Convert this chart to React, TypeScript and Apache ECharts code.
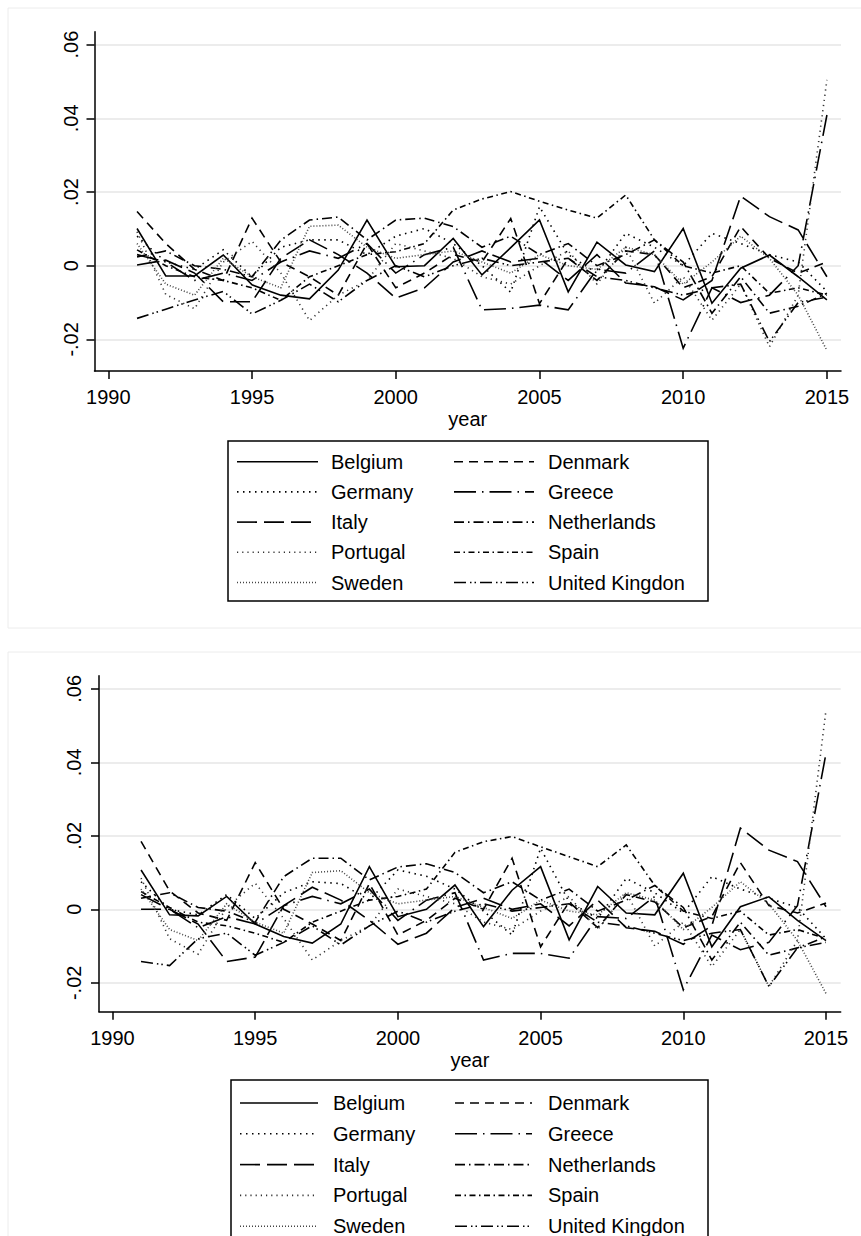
import React, { useEffect, useRef } from "react";
import * as echarts from "echarts";

// ---------- data ----------
const years = [1991, 1992, 1993, 1994, 1995, 1996, 1997, 1998, 1999, 2000, 2001, 2002, 2003, 2004, 2005, 2006, 2007, 2008, 2009, 2010, 2011, 2012, 2013, 2014, 2015];
const countries = ["Belgium", "Denmark", "Germany", "Greece", "Italy", "Netherlands", "Portugal", "Spain", "Sweden", "United Kingdon"];
const xTicks = [1990, 1995, 2000, 2005, 2010, 2015];
const yTicks = [-0.02, 0, 0.02, 0.04, 0.06];
const yTickLabels = ["-.02", "0", ".02", ".04", ".06"];
const xTitle = "year";

// top panel
const belgiumTop = [0.0101, -0.0028, -0.0028, 0.0029, -0.0052, -0.0080, -0.0090, -0.0012, 0.0124, -0.0003, 0.0000, 0.0074, -0.0025, 0.0049, 0.0124, -0.0071, 0.0064, 0.0002, -0.0016, 0.0101, -0.0102, -0.0007, 0.0029, -0.0030, -0.0093];
const denmarkTop = [0.0147, 0.0060, -0.0010, -0.0040, 0.0129, 0.0010, -0.0030, -0.0080, 0.0060, -0.0060, -0.0020, 0.0030, 0.0010, 0.0128, -0.0103, 0.0020, -0.0040, 0.0040, 0.0030, -0.0060, -0.0030, 0.0106, 0.0020, -0.0020, 0.0010];
const germanyTop = [0.0080, 0.0010, -0.0010, 0.0043, -0.0030, 0.0050, 0.0070, 0.0070, 0.0030, 0.0080, 0.0101, 0.0060, 0.0000, -0.0072, 0.0160, 0.0030, -0.0020, 0.0088, 0.0050, 0.0000, 0.0088, 0.0060, 0.0030, 0.0010, -0.0070];
const greeceTop = [0.0030, 0.0010, -0.0040, -0.0020, -0.0040, 0.0010, 0.0040, 0.0020, 0.0060, -0.0020, 0.0030, 0.0050, -0.0120, -0.0116, -0.0107, -0.0120, -0.0010, -0.0020, 0.0040, -0.0224, -0.0060, -0.0100, -0.0080, 0.0000, 0.0409];
const italyTop = [0.0002, 0.0015, -0.0020, -0.0098, -0.0098, 0.0020, 0.0070, 0.0030, -0.0020, -0.0088, -0.0060, 0.0010, 0.0040, 0.0010, 0.0020, -0.0040, 0.0030, -0.0047, -0.0057, -0.0093, -0.0040, 0.0189, 0.0133, 0.0097, -0.0030];
const netherlandsTop = [0.0024, 0.0040, 0.0000, -0.0010, -0.0030, 0.0069, 0.0124, 0.0132, 0.0070, 0.0124, 0.0129, 0.0106, 0.0050, 0.0080, 0.0030, 0.0060, 0.0000, 0.0030, 0.0070, 0.0010, -0.0129, -0.0030, -0.0129, -0.0110, -0.0075];
const portugalTop = [0.0092, -0.0078, -0.0117, 0.0010, 0.0066, -0.0020, -0.0149, -0.0080, -0.0040, 0.0060, 0.0040, 0.0020, -0.0030, -0.0050, 0.0000, 0.0040, -0.0050, 0.0050, -0.0102, -0.0030, -0.0148, -0.0050, -0.0220, -0.0080, 0.0504];
const spainTop = [0.0043, 0.0000, -0.0030, -0.0040, -0.0060, -0.0094, -0.0030, 0.0000, 0.0030, 0.0038, 0.0060, 0.0151, 0.0181, 0.0201, 0.0175, 0.0151, 0.0129, 0.0192, 0.0070, 0.0000, -0.0020, 0.0000, -0.0075, -0.0060, -0.0080];
const swedenTop = [0.0060, -0.0050, -0.0080, 0.0020, -0.0030, -0.0060, 0.0107, 0.0110, 0.0050, 0.0020, 0.0030, 0.0040, 0.0010, -0.0020, 0.0030, 0.0000, -0.0010, 0.0050, 0.0030, -0.0050, 0.0010, 0.0080, 0.0020, -0.0080, -0.0230];
const ukTop = [-0.0143, -0.0118, -0.0093, -0.0070, -0.0131, -0.0094, -0.0050, -0.0098, -0.0040, 0.0000, -0.0030, 0.0000, 0.0020, 0.0000, 0.0010, 0.0020, -0.0030, -0.0040, -0.0060, -0.0080, -0.0060, -0.0050, -0.0206, -0.0100, -0.0085];

// bottom panel
const belgiumBottom = [0.0107, -0.0015, -0.0018, 0.0035, -0.0040, -0.0074, -0.0092, -0.0040, 0.0116, -0.0020, 0.0000, 0.0066, -0.0047, 0.0052, 0.0116, -0.0083, 0.0062, -0.0010, -0.0015, 0.0098, -0.0102, 0.0007, 0.0034, -0.0030, -0.0085];
const denmarkBottom = [0.0185, 0.0050, -0.0010, -0.0030, 0.0127, 0.0000, -0.0040, -0.0085, 0.0070, -0.0070, -0.0030, 0.0030, 0.0000, 0.0139, -0.0102, 0.0020, -0.0050, 0.0040, 0.0020, -0.0050, -0.0020, 0.0127, 0.0010, -0.0010, 0.0017];
const germanyBottom = [0.0075, 0.0000, -0.0015, 0.0040, -0.0025, 0.0045, 0.0075, 0.0070, 0.0025, 0.0107, 0.0090, 0.0055, -0.0005, -0.0070, 0.0166, 0.0020, -0.0025, 0.0084, 0.0045, -0.0010, 0.0089, 0.0055, 0.0030, 0.0005, -0.0080];
const greeceBottom = [0.0040, 0.0000, -0.0050, -0.0020, -0.0040, 0.0010, 0.0035, 0.0015, 0.0055, -0.0030, 0.0025, 0.0045, -0.0138, -0.0120, -0.0120, -0.0133, -0.0020, -0.0025, 0.0035, -0.0219, -0.0070, -0.0110, -0.0090, 0.0010, 0.0424];
const italyBottom = [0.0000, 0.0000, -0.0040, -0.0142, -0.0130, 0.0010, 0.0060, 0.0025, -0.0030, -0.0095, -0.0065, 0.0005, 0.0030, 0.0000, 0.0015, -0.0045, 0.0025, -0.0050, -0.0060, -0.0095, -0.0045, 0.0221, 0.0161, 0.0130, 0.0007];
const netherlandsBottom = [0.0030, 0.0045, 0.0005, -0.0005, -0.0035, 0.0089, 0.0139, 0.0139, 0.0080, 0.0115, 0.0124, 0.0100, 0.0045, 0.0075, 0.0025, 0.0055, -0.0005, 0.0025, 0.0065, 0.0005, -0.0138, -0.0035, -0.0125, -0.0105, -0.0075];
const portugalBottom = [0.0085, -0.0080, -0.0122, 0.0005, 0.0071, -0.0025, -0.0138, -0.0085, -0.0045, 0.0055, 0.0035, 0.0015, -0.0035, -0.0055, -0.0005, 0.0035, -0.0055, 0.0045, -0.0100, -0.0035, -0.0156, -0.0055, -0.0210, -0.0085, 0.0542];
const spainBottom = [0.0048, 0.0005, -0.0035, -0.0045, -0.0065, -0.0090, -0.0035, -0.0005, 0.0025, 0.0035, 0.0055, 0.0155, 0.0184, 0.0198, 0.0170, 0.0143, 0.0116, 0.0175, 0.0065, -0.0005, -0.0025, -0.0005, -0.0070, -0.0055, -0.0080];
const swedenBottom = [0.0055, -0.0055, -0.0085, 0.0015, -0.0035, -0.0065, 0.0100, 0.0105, 0.0045, 0.0015, 0.0025, 0.0035, 0.0005, -0.0025, 0.0025, -0.0005, -0.0015, 0.0045, 0.0025, -0.0055, 0.0005, 0.0075, 0.0015, -0.0085, -0.0229];
const ukBottom = [-0.0142, -0.0153, -0.0080, -0.0065, -0.0125, -0.0090, -0.0045, -0.0097, -0.0045, -0.0005, -0.0035, -0.0005, 0.0015, -0.0005, 0.0005, 0.0015, -0.0035, -0.0045, -0.0065, -0.0085, -0.0065, -0.0055, -0.0210, -0.0105, -0.0090];

const topValues = [belgiumTop, denmarkTop, germanyTop, greeceTop, italyTop, netherlandsTop, portugalTop, spainTop, swedenTop, ukTop];
const bottomValues = [belgiumBottom, denmarkBottom, germanyBottom, greeceBottom, italyBottom, netherlandsBottom, portugalBottom, spainBottom, swedenBottom, ukBottom];

// ---------- styles ----------
const FONT = "'Liberation Sans', Arial, Helvetica, sans-serif";
const dashes: (string | number[])[] = [
  "solid",                 // Belgium
  [9, 6],                  // Denmark
  [1.5, 4.5],              // Germany
  [22, 6, 1.5, 6],         // Greece
  [20, 7],                 // Italy
  [10, 4, 1.5, 4],         // Netherlands
  [1.2, 4],                // Portugal
  [6, 3.5, 1.5, 3.5],      // Spain
  [1, 2],                  // Sweden
  [12, 4, 1.5, 3, 1.5, 4], // United Kingdon
];
const lineColors = ["#000", "#000", "#000", "#000", "#000", "#000", "#333", "#000", "#444", "#000"];

type Panel = {
  left: number; top: number; right: number; bottom: number;
  xMin: number; xMax: number; yMin: number; yMax: number;
  labelMargin: number;
  legend: { x: number; y: number; w: number; h: number; row0: number; rowGap: number; c1: [number, number, number]; c2: [number, number, number] };
  frame: { x: number; y: number; w: number; h: number };
};

const panels: Panel[] = [
  {
    left: 94.5, top: 31.7, right: 841, bottom: 371,
    xMin: 1989.52, xMax: 2015.49, yMin: -0.02858, yMax: 0.0635,
    labelMargin: 14,
    legend: { x: 228, y: 441, w: 480, h: 160, row0: 461.7, rowGap: 30.2, c1: [237, 318, 331], c2: [454, 534, 548] },
    frame: { x: 8, y: 8, w: 900, h: 620 },
  },
  {
    left: 99, top: 675.7, right: 840.7, bottom: 1011.7,
    xMin: 1989.527, xMax: 2015.515, yMin: -0.02786, yMax: 0.06356,
    labelMargin: 15,
    legend: { x: 231, y: 1080, w: 477, h: 200, row0: 1103, rowGap: 30.8, c1: [240, 318, 333], c2: [455, 532, 548] },
    frame: { x: 8, y: 652, w: 900, h: 700 },
  },
];

function yLabel(v: number): string {
  for (let j = 0; j < yTicks.length; j++) if (Math.abs(yTicks[j] - v) < 1e-9) return yTickLabels[j];
  return "";
}

function buildOption() {
  const grid: any[] = [];
  const xAxis: any[] = [];
  const yAxis: any[] = [];
  const series: any[] = [];
  const graphic: any[] = [];
  const axisLineStyle = { color: "#000", width: 1.5 };

  panels.forEach((p, pi) => {
    graphic.push({
      type: "rect", z: -10, silent: true,
      shape: { x: p.frame.x, y: p.frame.y, width: p.frame.w, height: p.frame.h },
      style: { fill: "#fff", stroke: "#ececec", lineWidth: 1 },
    });
    grid.push({ left: p.left, top: p.top, width: p.right - p.left, height: p.bottom - p.top, containLabel: false });
    xAxis.push({
      type: "value", gridIndex: pi, min: p.xMin, max: p.xMax,
      axisLine: { show: true, onZero: false, lineStyle: axisLineStyle },
      axisTick: { show: true, length: 8, customValues: xTicks, lineStyle: axisLineStyle },
      axisLabel: { show: true, customValues: xTicks, margin: 16, color: "#000", fontSize: 20, fontFamily: FONT, formatter: (v: number) => String(Math.round(v)) },
      splitLine: { show: false },
      name: xTitle, nameLocation: "middle", nameGap: 38,
      nameTextStyle: { color: "#000", fontSize: 20, fontFamily: FONT },
    });
    yAxis.push({
      type: "value", gridIndex: pi, min: p.yMin, max: p.yMax,
      axisLine: { show: true, onZero: false, lineStyle: axisLineStyle },
      axisTick: { show: true, length: 8, customValues: yTicks, lineStyle: axisLineStyle },
      axisLabel: { show: true, customValues: yTicks, rotate: 90, margin: p.labelMargin, color: "#000", fontSize: 20, fontFamily: FONT, formatter: (v: number) => yLabel(v) },
      splitLine: { show: true, lineStyle: { color: "#e6e6e6", width: 1.5 } },
    });
    const vals = pi === 0 ? topValues : bottomValues;
    countries.forEach((name, ci) => {
      series.push({
        type: "line", name: name + (pi === 0 ? " " : "  "), xAxisIndex: pi, yAxisIndex: pi,
        data: years.map((yr, k) => [yr, vals[ci][k]]),
        symbol: "none", showSymbol: false, silent: true, clip: true,
        lineStyle: { color: lineColors[ci], width: 1.6, type: dashes[ci], cap: "butt", join: "miter" },
        emphasis: { disabled: true },
      });
    });

    // legend box
    const L = p.legend;
    graphic.push({
      type: "rect", silent: true, z: 10,
      shape: { x: L.x, y: L.y, width: L.w, height: L.h },
      style: { fill: "#fff", stroke: "#000", lineWidth: 1.5 },
    });
    countries.forEach((name, ci) => {
      const row = Math.floor(ci / 2);
      const col = ci % 2 === 0 ? L.c1 : L.c2;
      const cy = L.row0 + row * L.rowGap;
      const dash = dashes[ci];
      graphic.push({
        type: "line", silent: true, z: 11,
        shape: { x1: col[0], y1: cy, x2: col[1], y2: cy },
        style: { stroke: lineColors[ci], lineWidth: 1.6, lineDash: dash === "solid" ? null : dash, lineCap: "butt" },
      });
      graphic.push({
        type: "text", silent: true, z: 11,
        x: col[2], y: cy,
        style: { text: name, fill: "#000", font: `20px ${FONT}`, textAlign: "left", textVerticalAlign: "middle", verticalAlign: "middle" },
      });
    });
  });

  return {
    animation: false,
    backgroundColor: "#fff",
    textStyle: { fontFamily: FONT },
    grid, xAxis, yAxis, series, graphic,
  };
}

export default function App() {
  const ref = useRef<HTMLDivElement>(null);
  useEffect(() => {
    if (!ref.current) return;
    const chart = echarts.init(ref.current, null, { renderer: "svg" });
    chart.setOption(buildOption() as any);
    return () => chart.dispose();
  }, []);
  return <div ref={ref} style={{ position: "absolute", left: 0, top: 0, width: 861, height: 1236, background: "#fff" }} />;
}
